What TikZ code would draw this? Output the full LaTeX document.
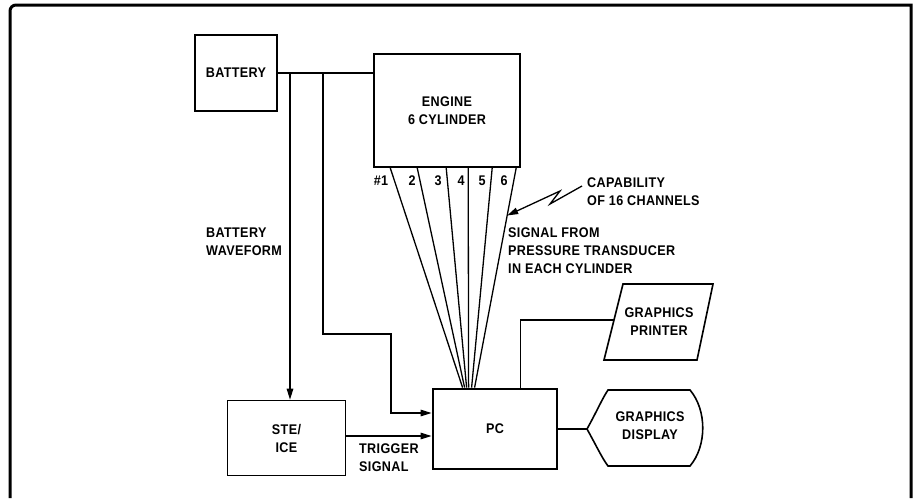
\documentclass[tikz,border=0pt]{standalone}
\usepackage{fontspec}
\setmainfont{Liberation Sans}
\newfontfamily\lbfont[FakeStretch=0.9,LetterSpace=2.5]{Liberation Sans}
\usetikzlibrary{arrows.meta,calc}
\begin{document}
\begin{tikzpicture}[x=1pt,y=-1pt,
  lbl/.style={font=\lbfont\bfseries\fontsize{14}{18}\selectfont,inner sep=0pt},
  box/.style={draw,line width=1.6pt,inner sep=0pt,font=\lbfont\bfseries\fontsize{14}{18}\selectfont,align=center},
  wire/.style={line width=1.3pt},
  arr/.style={wire,-{Triangle[length=11pt,width=6.5pt]}}]
\useasboundingbox (0,0) rectangle (915,498);
% frame
\draw[line width=3pt] (10,498) [rounded corners=6pt] -- (10,5) [sharp corners] -- (911,5) -- (911,498);
% boxes
\node[box,minimum width=82pt,minimum height=76pt] (battery) at (236,73) {BATTERY};
\node[box,minimum width=146pt,minimum height=113pt] (engine) at (447,110.5) {ENGINE\\6 CYLINDER};
\node[box,line width=2.8pt,minimum width=124pt,minimum height=80pt] (pc) at (495,429) {PC};
\node[box,minimum width=118pt,minimum height=75pt] (steice) at (286.5,438) {STE/\\ICE};
% graphics printer
\draw[line width=1.6pt] (604,360) -- (623,284) -- (713,284) -- (697,360) -- cycle;
\node[lbl,align=center] (printer) at (659,322) {GRAPHICS\\PRINTER};
\coordinate (printerin) at (614,320);
% graphics display
\draw[line width=1.6pt] (587,429) .. controls (597,411) and (602,399) .. (608,390) -- (690,390)
  .. controls (707,410) and (707,446) .. (690,466) -- (608,466)
  .. controls (602,458) and (597,447) .. (587,429) -- cycle;
\node[lbl,align=center] (display) at (650,426) {GRAPHICS\\DISPLAY};
\coordinate (displayin) at (587,429);
% battery bus
\draw[wire] (battery.east) -- (battery.east -| engine.west);
\coordinate (tap1) at (290,73);
\coordinate (tap2) at (323,73);
\coordinate (jog1) at (323,334);
\coordinate (jog2) at (391,334);
\draw[arr] (tap1) -- (tap1 |- steice.north);
\coordinate (pcin1) at ($(pc.west)+(0,-16)$);
\draw[arr] (tap2) -- (jog1) -- (jog2) |- (pcin1);
\coordinate (trig) at ($(steice.east)+(0,-2)$);
\draw[arr] (trig) -- (trig -| pc.west);
% cylinder signals
\foreach \i/\a/\b in {1/17/31,2/44/33,3/73/35,4/95/37,5/119/40,6/143/43}{
  \coordinate (cyl\i) at ($(engine.south west)+(\a,0)$);
  \coordinate (pct\i) at ($(pc.north west)+(\b,0)$);
  \draw[wire] (cyl\i) -- (pct\i);
}
\node[lbl] (n1) at (381,180.5) {\#1};
\node[lbl] (n2) at (412,180.5) {2};
\node[lbl] (n3) at (438,180.5) {3};
\node[lbl] (n4) at (461,180.5) {4};
\node[lbl] (n5) at (482,180.5) {5};
\node[lbl] (n6) at (504,180.5) {6};
% outputs
\coordinate (pcup) at ($(pc.north west)+(89,0)$);
\draw[wire] (pcup) |- (printerin);
\draw[wire] (pc.east) -- (displayin);
% capability leader
\coordinate (capstart) at (582,186);
\coordinate (captip) at ($(cyl6)!0.217!(pct6)$);
\draw[arr] (capstart) -- (550,204) -- (560,191) -- (captip);
% labels
\node[lbl,anchor=west,align=left] (cap) at (587,192) {CAPABILITY\\OF 16 CHANNELS};
\node[lbl,anchor=west,align=left] (sig) at (508,251) {SIGNAL FROM\\PRESSURE TRANSDUCER\\IN EACH CYLINDER};
\node[lbl,anchor=west,align=left] (bw) at (206,242) {BATTERY\\WAVEFORM};
\node[lbl,anchor=west,align=left] (ts) at (359,457.5) {TRIGGER\\SIGNAL};
\end{tikzpicture}
\end{document}
